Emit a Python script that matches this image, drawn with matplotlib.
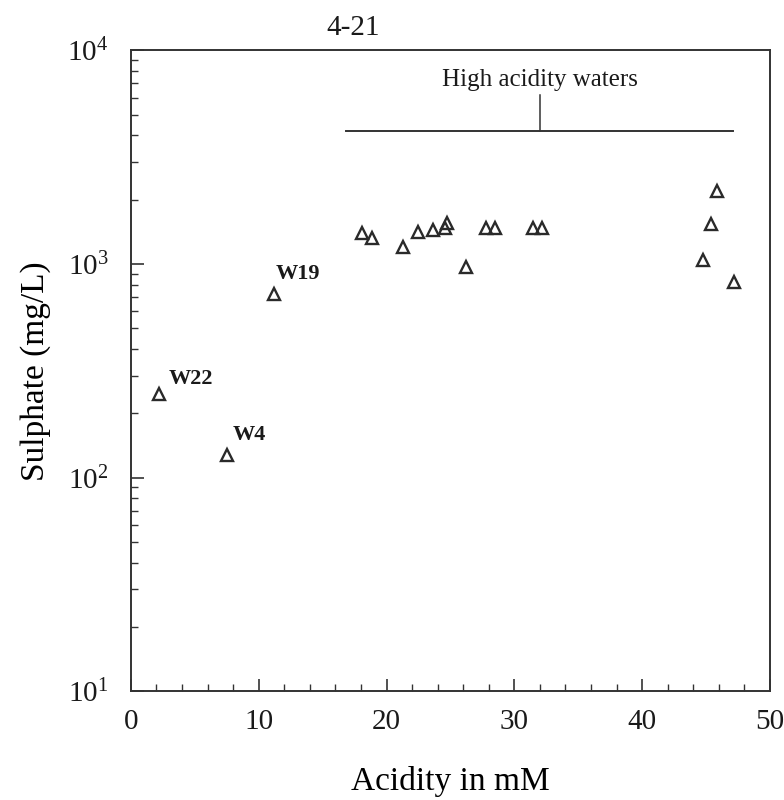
import matplotlib

matplotlib.use("Agg")
import matplotlib.pyplot as plt
from matplotlib.ticker import MultipleLocator, LogLocator, LogFormatterMathtext

plt.rcParams.update({
    "font.family": ["Liberation Serif", "DejaVu Serif"],
    "mathtext.fontset": "stix",
    "axes.edgecolor": "#333333",
    "axes.linewidth": 1.4,
    "xtick.color": "#333333",
    "ytick.color": "#333333",
    "xtick.labelcolor": "#1a1a1a",
    "ytick.labelcolor": "#1a1a1a",
    "text.color": "#1a1a1a",
})

# acidity (mM) vs sulphate (mg/L)
acidity = [2.2, 7.5, 11.2, 18.1, 18.9, 21.3, 22.5, 23.6, 24.6, 24.7,
           26.2, 27.8, 28.5, 31.5, 32.2, 44.8, 45.4, 45.9, 47.2]
sulphate = [246, 127, 721, 1400, 1330, 1199, 1409, 1442, 1480, 1560,
            970, 1473, 1473, 1468, 1468, 1045, 1542, 2203, 826]

labels = {"W22": (2.2, 246), "W4": (7.5, 127), "W19": (11.2, 721)}
label_offset = {"W22": (7, 11), "W4": (4, 15), "W19": (1, 15)}

fig = plt.figure(figsize=(7.84, 8.0), dpi=100)
ax = fig.add_axes([0.167, 0.136, 0.815, 0.801])

ax.plot(acidity, sulphate, ls="none", marker="^", ms=8, mfc="none",
        mec="#2a2a2a", mew=1.7)

for name, (x, y) in labels.items():
    ax.annotate(name, (x, y), xytext=label_offset[name], textcoords="offset points",
                ha="left", va="center", fontsize=16, fontweight="bold")

# "High acidity waters" bracket
ax.plot([16.8, 47.1], [4200, 4200], color="#333333", lw=1.4)
ax.plot([32.0, 32.0], [4200, 6150], color="#333333", lw=1.1)
ax.text(32.0, 7300, "High acidity waters", ha="center", va="center", fontsize=18)

ax.set_yscale("log")
ax.set_xlim(0, 50)
ax.set_ylim(10, 1e4)

ax.xaxis.set_major_locator(MultipleLocator(10))
ax.xaxis.set_minor_locator(MultipleLocator(2))
ax.yaxis.set_major_locator(LogLocator(base=10))
ax.yaxis.set_minor_locator(LogLocator(base=10, subs=range(2, 10)))
ax.yaxis.set_major_formatter(LogFormatterMathtext())

ax.tick_params(which="both", direction="in", top=False, right=False)
ax.tick_params(which="major", length=9, width=1.2, labelsize=21)
ax.tick_params(axis="y", which="major", pad=16)
ax.tick_params(axis="x", which="major", pad=13)
ax.tick_params(which="minor", length=5, width=1.0)

ax.set_xlabel("Acidity in mM", fontsize=24, labelpad=22)
ax.set_ylabel("Sulphate (mg/L)", fontsize=24, labelpad=12)

fig.text(0.45, 0.965, "4-21", ha="center", va="center", fontsize=21)

fig.savefig("out.png", dpi=100, facecolor="white")
